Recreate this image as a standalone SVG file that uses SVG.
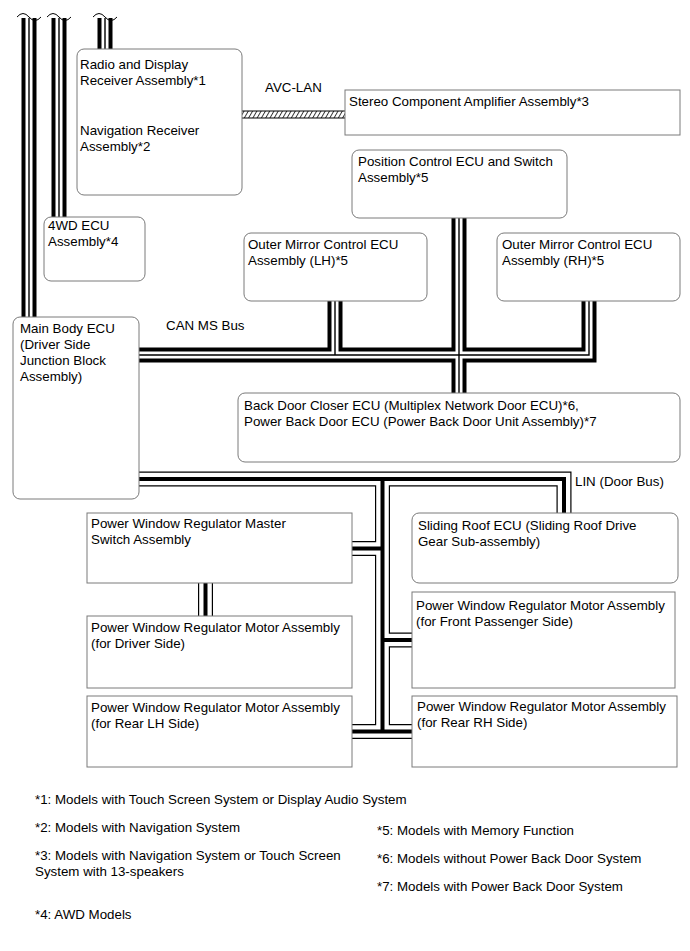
<svg xmlns="http://www.w3.org/2000/svg" xmlns:xlink="http://www.w3.org/1999/xlink" width="690" height="951" viewBox="0 0 690 951">
<style>
text{font-family:"Liberation Sans",Arial,sans-serif;font-size:13.33px;fill:#000}
.box{fill:#fff;stroke:#7a7a7a;stroke-width:1}
.w{fill:none;stroke-linecap:butt;stroke-linejoin:miter}
.co{stroke:#000;stroke-width:15}
.cw{stroke:#fff;stroke-width:7}
.cc{stroke:#000;stroke-width:1.4}
.lo{stroke:#000;stroke-width:15}
.lw{stroke:#fff;stroke-width:12.6}
.lc{stroke:#000;stroke-width:4}
.brk{fill:none;stroke:#000;stroke-width:1}
</style>
<defs>
<pattern id="hatch" patternUnits="userSpaceOnUse" width="3.7" height="10" patternTransform="rotate(30)">
<line x1="0.5" y1="0" x2="0.5" y2="10" stroke="#000" stroke-width="0.8"/>
</pattern>
<path id="canPath" d="M29,18 V319 M59,18 V219 M105,18 V51 M138,355 H589 V300 M335,300 V355 M459,217 V395"/>
<path id="linPath" d="M138,479 H564 V515 M382.5,479 V731.5 M382.5,548.5 H351 M382.5,640 H413 M351,731.5 H413 M205.5,582 V617"/>
</defs>

<g id="connectors" class="w">
<use xlink:href="#canPath" class="w co"/>
<use xlink:href="#canPath" class="w cw"/>
<use xlink:href="#canPath" class="w cc"/>
<use xlink:href="#linPath" class="w lo"/>
<use xlink:href="#linPath" class="w lw"/>
<use xlink:href="#linPath" class="w lc"/>
<path class="brk" d="M17,17 q6,-7 12,0 t12,0 M47,17 q6,-7 12,0 t12,0 M93,17 q6,-7 12,0 t12,0"/>
<rect x="242" y="111" width="103" height="7" fill="url(#hatch)"/>
<line x1="242" y1="111" x2="345" y2="111" stroke="#000" stroke-width="1"/>
<line x1="242" y1="118" x2="345" y2="118" stroke="#000" stroke-width="1"/>
<text x="265" y="92">AVC-LAN</text>
<text x="166" y="330">CAN MS Bus</text>
<text x="575" y="486">LIN (Door Bus)</text>
</g>

<g id="radio"><rect class="box" x="77" y="49" width="165" height="146" rx="7"/>
<text x="80" y="69">Radio and Display</text><text x="80" y="85">Receiver Assembly*1</text>
<text x="80" y="135">Navigation Receiver</text><text x="80" y="151">Assembly*2</text></g>

<g id="stereo"><rect class="box" x="345" y="90" width="335" height="45"/>
<text x="349" y="106">Stereo Component Amplifier Assembly*3</text></g>

<g id="position"><rect class="box" x="352" y="150" width="215" height="68" rx="7"/>
<text x="358" y="166">Position Control ECU and Switch</text><text x="358" y="182">Assembly*5</text></g>

<g id="ecu4wd"><rect class="box" x="44" y="217" width="101" height="64" rx="7"/>
<text x="48" y="230">4WD ECU</text><text x="48" y="246">Assembly*4</text></g>

<g id="mirrorLH"><rect class="box" x="244" y="233" width="183" height="68" rx="7"/>
<text x="248" y="249">Outer Mirror Control ECU</text><text x="248" y="265">Assembly (LH)*5</text></g>

<g id="mirrorRH"><rect class="box" x="497" y="233" width="183" height="68" rx="7"/>
<text x="502" y="249">Outer Mirror Control ECU</text><text x="502" y="265">Assembly (RH)*5</text></g>

<g id="mainBody"><rect class="box" x="13" y="317" width="126" height="182" rx="7"/>
<text x="20" y="333">Main Body ECU</text><text x="20" y="349">(Driver Side</text>
<text x="20" y="365">Junction Block</text><text x="20" y="381">Assembly)</text></g>

<g id="backDoor"><rect class="box" x="238" y="393" width="442" height="69" rx="7"/>
<text x="244" y="410">Back Door Closer ECU (Multiplex Network Door ECU)*6,</text>
<text x="244" y="426">Power Back Door ECU (Power Back Door Unit Assembly)*7</text></g>

<g id="masterSwitch"><rect class="box" x="87" y="513" width="265" height="70"/>
<text x="91" y="528">Power Window Regulator Master</text><text x="91" y="544">Switch Assembly</text></g>

<g id="motorDriver"><rect class="box" x="87" y="616" width="265" height="72"/>
<text x="91" y="632">Power Window Regulator Motor Assembly</text><text x="91" y="648">(for Driver Side)</text></g>

<g id="motorRearLH"><rect class="box" x="87" y="696" width="265" height="71"/>
<text x="91" y="712">Power Window Regulator Motor Assembly</text><text x="91" y="728">(for Rear LH Side)</text></g>

<g id="slidingRoof"><rect class="box" x="412" y="513" width="266" height="70" rx="7"/>
<text x="418" y="530">Sliding Roof ECU (Sliding Roof Drive</text><text x="418" y="546">Gear Sub-assembly)</text></g>

<g id="motorFrontPass"><rect class="box" x="412" y="592" width="263" height="96"/>
<text x="416" y="610">Power Window Regulator Motor Assembly</text><text x="416" y="626">(for Front Passenger Side)</text></g>

<g id="motorRearRH"><rect class="box" x="412" y="696" width="265" height="71"/>
<text x="417" y="711">Power Window Regulator Motor Assembly</text><text x="417" y="727">(for Rear RH Side)</text></g>

<g id="notes">
<text x="35" y="804">*1: Models with Touch Screen System or Display Audio System</text>
<text x="35" y="832">*2: Models with Navigation System</text>
<text x="35" y="860">*3: Models with Navigation System or Touch Screen</text>
<text x="35" y="876">System with 13-speakers</text>
<text x="35" y="919">*4: AWD Models</text>
<text x="377" y="835">*5: Models with Memory Function</text>
<text x="377" y="863">*6: Models without Power Back Door System</text>
<text x="377" y="891">*7: Models with Power Back Door System</text>
</g>
</svg>
